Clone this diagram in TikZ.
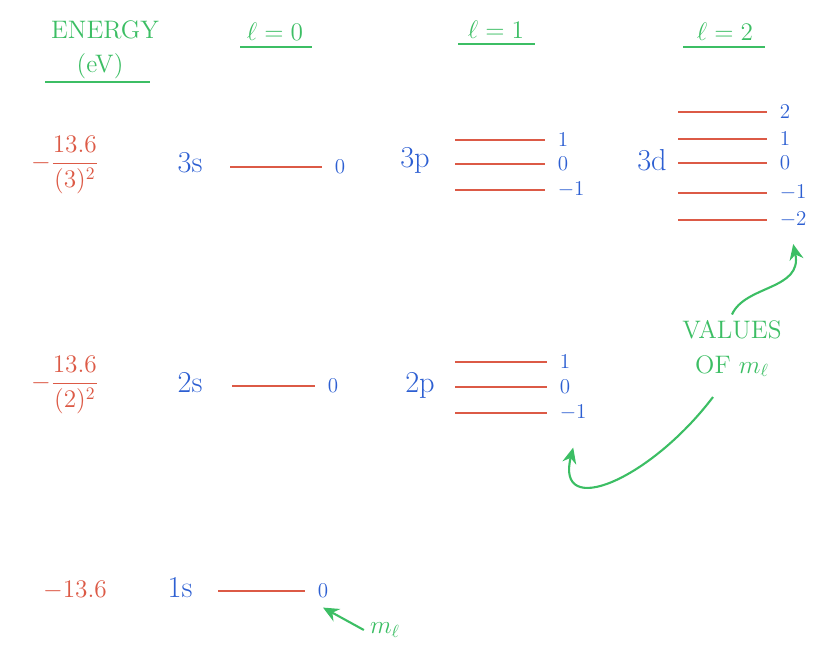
\documentclass[tikz,border=0pt]{standalone}
\usepackage{amsmath}
\usetikzlibrary{arrows.meta,positioning}
\definecolor{green1}{HTML}{3CBE64}
\definecolor{red1}{HTML}{DC5A46}
\definecolor{blue1}{HTML}{2D5FD2}

\begin{document}
\begin{tikzpicture}[x=0.02cm,y=-0.02cm,
    level/.style={red1,line width=1.6pt},
    orb/.style={blue1,font=\LARGE},
    mval/.style={blue1,font=\large,inner sep=0.5pt},
    energy/.style={red1,font=\Large},
    head/.style={green1,font=\Large},
    uline/.style={green1,line width=1.2pt},
    note/.style={green1,line width=1.2pt,-{Stealth[length=9pt,width=8pt]}}]
  \useasboundingbox (0,0) rectangle (820,657);
  % column heads
  \node[head] (hE) at (105,30) {ENERGY};
  \node[head] (hV) at (100,66) {(eV)};
  \draw[uline] (45,82) -- (150,82);
  \node[head] (h0) at (275,32) {$\ell=0$};
  \draw[uline] (240,47) -- (312,47);
  \node[head] (h1) at (496,30) {$\ell=1$};
  \draw[uline] (458,44) -- (535,44);
  \node[head] (h2) at (725,32) {$\ell=2$};
  \draw[uline] (683,47) -- (765,47);
  % n = 3
  \node[energy] (e3) at (65,165) {$-\dfrac{13.6}{(3)^2}$};
  \node[orb] (s3) at (190,163) {3s};
  \draw[level] (230,167) -- (322,167) node[mval,right=6pt] (m3s) {0};
  \node[orb] (p3) at (415,160) {3p};
  \foreach \y/\m/\i in {140/1/a,164/0/b,190/-1/c}
    \draw[level] (455,\y) -- (545,\y) node[mval,right=6pt] (p3\i) {$\m$};
  \node[orb] (d3) at (652,160) {3d};
  \foreach \y/\m/\i in {112/2/a,139/1/b,163/0/c,193/-1/d,220/-2/e}
    \draw[level] (678,\y) -- (767,\y) node[mval,right=6pt] (d3\i) {$\m$};
  % n = 2
  \node[energy] (e2) at (65,385) {$-\dfrac{13.6}{(2)^2}$};
  \node[orb] (s2) at (190,383) {2s};
  \draw[level] (232,386) -- (315,386) node[mval,right=6pt] (m2s) {0};
  \node[orb] (p2) at (420,385) {2p};
  \foreach \y/\m/\i in {362/1/a,387/0/b,413/-1/c}
    \draw[level] (455,\y) -- (547,\y) node[mval,right=6pt] (p2\i) {$\m$};
  % n = 1
  \node[energy] (e1) at (75,590) {$-13.6$};
  \node[orb] (s1) at (180,588) {1s};
  \draw[level] (218,591) -- (305,591) node[mval,right=6pt] (m1s) {0};
  % notes
  \node[head] (vals) at (732,330) {VALUES};
  \node[head,below=2pt of vals] (ofm) {OF $m_\ell$};
  \node[head] (mlab) at (385,630) {$m_\ell$};
  \coordinate (vfrom) at (713,397);
  \draw[note] (vals.north) .. controls (745,285) and (803,290) .. ([yshift=-8pt]d3e.south);
  \draw[note] (vfrom) .. controls (650,480) and (555,520) .. ([yshift=-14pt]p2c.south);
  \draw[note] (mlab.west) -- ([yshift=-4pt]m1s.south);
\end{tikzpicture}
\end{document}
